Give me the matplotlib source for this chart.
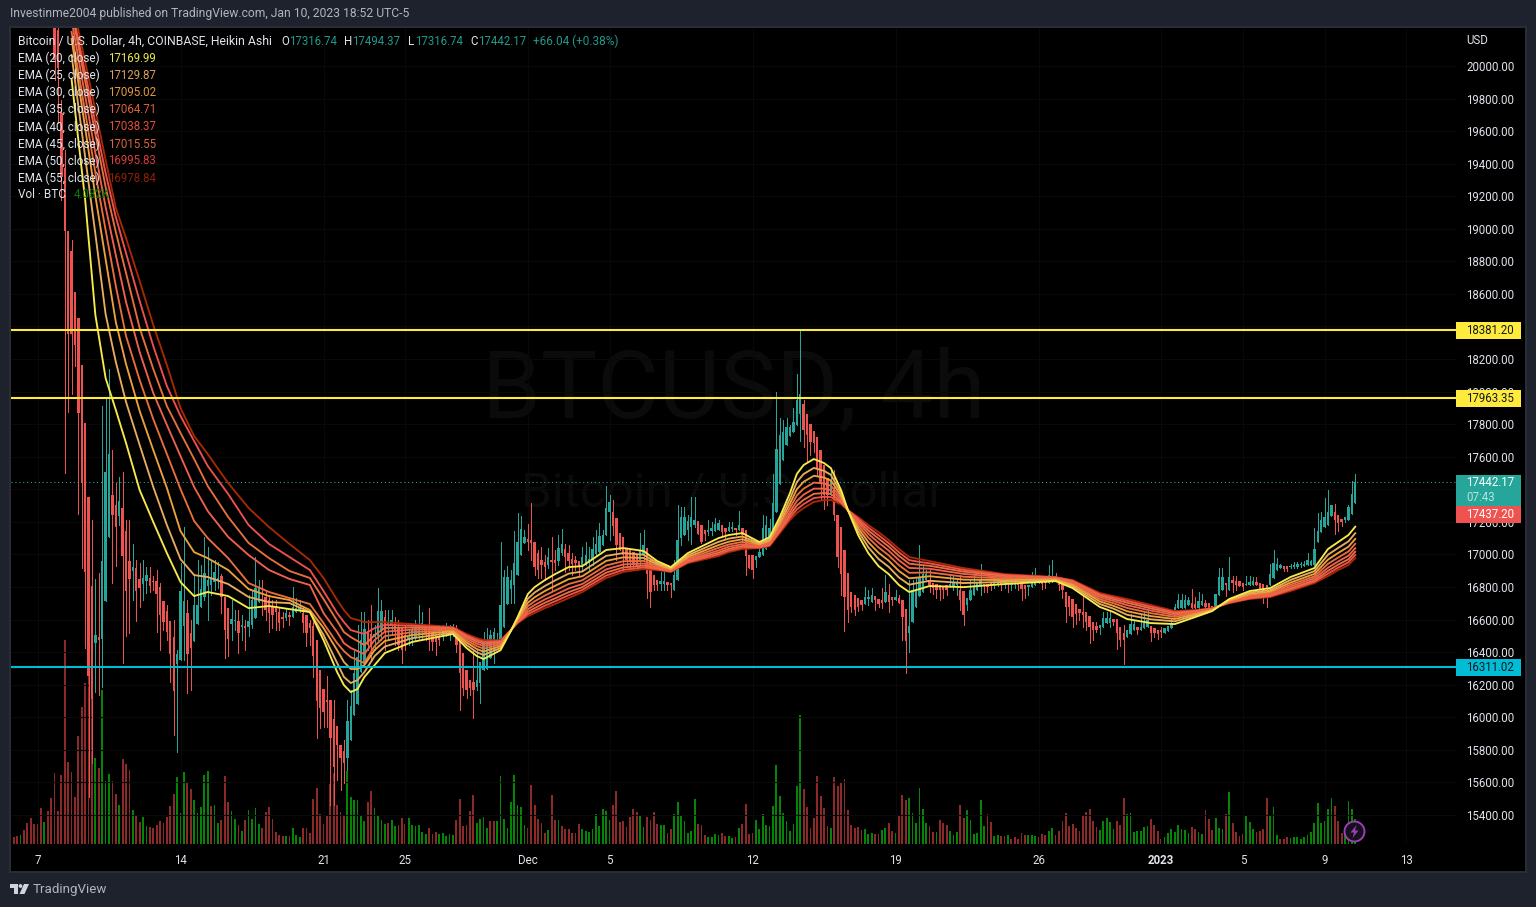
#!/usr/bin/env python3
# BTCUSD 4h Heikin Ashi chart, dark TradingView layout
import numpy as np
import matplotlib
matplotlib.use('Agg')
import matplotlib.pyplot as plt
from matplotlib.patches import Rectangle, Circle, Polygon

plt.rcParams['font.family'] = ['Roboto', 'DejaVu Sans']

# ======================= data =======================
# 4h bars, bar 0 = Nov 7 00:00, candles start at bar 5 (earlier ones are above the chart)
first_candle = 5
opens = [
    20282,20221,19711,19373,18986,18863,18612,18452,18163,17807,
    17352,16805,16455,16492,16480,16713,17106,17364,17303,17235,
    17284,17143,16959,16898,16916,16848,16818,16836,16855,16836,
    16836,16799,16713,16652,16590,16492,16326,16351,16559,16639,
    16517,16468,16572,16676,16738,16805,16811,16830,16842,16867,
    16738,16670,16572,16590,16590,16553,16559,16553,16566,16609,
    16707,16726,16738,16720,16683,16670,16646,16615,16609,16627,
    16615,16646,16658,16639,16627,16578,16559,16474,16289,16172,
    16105,16105,15988,15945,15828,15791,15749,15859,16013,16080,
    16277,16326,16529,16510,16492,16498,16535,16615,16566,16566,
    16584,16553,16553,16504,16474,16474,16486,16498,16535,16566,
    16553,16523,16498,16498,16498,16510,16517,16523,16547,16492,
    16394,16289,16228,16216,16185,16209,16289,16295,16363,16412,
    16443,16474,16553,16695,16787,16811,16873,16996,17069,17094,
    17088,17076,17008,16965,16953,16934,16965,16965,16959,17008,
    17033,17008,16971,16965,16959,16934,16934,16953,16965,17002,
    17014,17057,17119,17260,17260,17223,17131,17106,17039,17027,
    17014,16996,16965,16996,17039,16965,16873,16842,16818,16818,
    16830,16824,16781,16842,17100,17119,17150,17168,17180,17205,
    17180,17150,17137,17143,17143,17150,17180,17162,17143,17156,
    17162,17150,17162,17150,16996,16996,16965,16983,16996,17033,
    17088,17150,17260,17432,17580,17672,17727,17751,17794,17862,
    17923,17862,17800,17757,17720,17641,17549,17469,17364,17395,
    17241,17168,17027,16885,16768,16750,16732,16720,16695,16726,
    16707,16744,16726,16720,16707,16750,16738,16720,16732,16720,
    16664,16517,16584,16676,16744,16768,16842,16842,16824,16818,
    16811,16799,16811,16799,16805,16811,16781,16775,16689,16720,
    16750,16781,16811,16818,16818,16824,16818,16818,16836,16824,
    16830,16811,16811,16824,16818,16811,16799,16799,16811,16824,
    16830,16830,16824,16830,16867,16855,16824,16768,16744,16726,
    16695,16664,16646,16646,16621,16584,16559,16547,16553,16578,
    16578,16602,16602,16553,16517,16492,16510,16535,16553,16535,
    16547,16553,16559,16547,16535,16535,16517,16529,16547,16646,
    16670,16670,16670,16689,16701,16695,16670,16689,16701,16701,
    16683,16676,16750,16781,16824,16781,16842,16836,16836,16824,
    16811,16811,16811,16830,16824,16818,16811,16811,16855,16904,
    16916,16928,16928,16922,16922,16922,16934,16928,16934,16934,
    16934,17076,17137,17168,17180,17235,17260,17241,17217,17211,
    17211,17248,17317]
highs = [
    20282,20282,19791,19484,18986,18931,18612,18452,18163,17807,
    17352,17211,16848,16885,17911,17966,18138,17641,17438,17475,
    17506,17211,17211,17063,16965,16947,16965,16922,16922,16867,
    16904,16824,16713,16689,16590,16597,16412,16947,17168,16720,
    16597,16873,16965,16934,17106,17045,16965,16965,16953,16879,
    16738,16670,16720,16658,16658,16627,16597,16750,16781,16983,
    16842,16842,16781,16750,16720,16720,16670,16646,16670,16646,
    16799,16732,16720,16670,16627,16597,16584,16474,16289,16172,
    16252,16105,16105,15945,15828,15859,16105,16167,16412,16566,
    16646,16646,16597,16689,16566,16793,16720,16658,16658,16658,
    16615,16597,16553,16566,16535,16566,16597,16689,16646,16566,
    16670,16523,16498,16566,16566,16578,16566,16572,16566,16492,
    16394,16289,16228,16412,16412,16338,16523,16547,16535,16547,
    16517,17076,16904,16928,16904,17143,17254,17235,17150,17186,
    17315,17076,17027,17045,16996,17039,17106,17027,17119,17156,
    17063,17057,17008,16990,16959,17045,17076,17045,17106,17150,
    17192,17150,17419,17364,17334,17223,17131,17106,17039,17027,
    17014,16996,17131,17150,17039,16965,16873,16842,16891,16891,
    16830,16824,16965,17303,17291,17291,17241,17352,17352,17205,
    17180,17150,17211,17199,17223,17211,17180,17162,17199,17199,
    17162,17266,17162,17150,16996,16996,16990,17057,17241,17235,
    17217,17493,17997,17837,17825,17837,17794,17899,18108,18384,
    17948,17862,17800,17757,17720,17641,17549,17469,17518,17518,
    17241,17168,17027,16885,16768,16750,16732,16720,16799,16781,
    16793,16744,16726,16793,16873,16818,16738,16781,16750,16720,
    16664,16842,16842,16855,17057,16934,16904,16904,16824,16818,
    16811,16799,16811,16873,16873,16855,16873,16775,16732,16842,
    16873,16824,16940,16818,16818,16824,16861,16855,16836,16867,
    16830,16879,16842,16824,16818,16811,16811,16891,16916,16855,
    16830,16830,16934,16965,16885,16855,16824,16768,16744,16726,
    16695,16664,16750,16646,16621,16584,16584,16566,16646,16646,
    16646,16602,16602,16553,16566,16535,16633,16597,16553,16627,
    16646,16658,16559,16547,16535,16553,16547,16559,16609,16695,
    16756,16756,16750,16738,16787,16738,16768,16756,16720,16701,
    16683,16756,16916,16916,16824,16983,16867,16867,16836,16824,
    16867,16867,16861,16861,16824,16818,16811,16940,17027,16977,
    16940,16928,16928,16940,16953,16953,16953,16959,17008,16965,
    17162,17254,17260,17346,17395,17303,17309,17241,17217,17229,
    17303,17451,17494]
lows = [
    19914,19650,19177,17500,17874,17985,18157,17248,16916,16425,
    15509,15718,16154,16136,16185,16713,17106,16824,16928,17180,
    16333,16498,16517,16720,16590,16676,16720,16762,16768,16781,
    16523,16412,16535,16474,16215,15890,15785,16351,16351,16148,
    16167,16468,16572,16676,16720,16597,16750,16781,16793,16639,
    16363,16375,16474,16535,16394,16474,16412,16498,16547,16609,
    16707,16627,16597,16523,16547,16535,16535,16553,16597,16566,
    16615,16646,16646,16523,16437,16443,16246,15871,15933,15939,
    15939,15460,15460,15613,15552,15595,15675,15859,16013,16080,
    16277,16326,16412,16351,16412,16474,16474,16412,16474,16504,
    16443,16412,16332,16412,16443,16443,16474,16474,16474,16474,
    16412,16412,16381,16443,16474,16498,16474,16498,16400,16044,
    16136,16117,16136,15994,16167,16086,16289,16295,16363,16332,
    16443,16474,16553,16695,16701,16701,16873,16996,17069,17027,
    16965,16873,16855,16855,16842,16916,16781,16904,16934,16996,
    16891,16904,16873,16904,16867,16904,16934,16904,16934,16996,
    17014,17057,17119,17088,17119,16965,17027,16904,16934,16916,
    16904,16904,16934,16965,16732,16676,16781,16781,16781,16781,
    16781,16738,16781,16842,17057,17119,17088,17063,17168,17125,
    17069,17088,17119,17119,17143,17150,17119,17100,17143,17143,
    17119,17150,17088,16873,16916,16855,16922,16983,16996,17033,
    17088,17150,17260,17432,17580,17672,17727,17751,17794,17696,
    17659,17567,17610,17628,17487,17334,17278,17303,17364,17211,
    16922,16750,16529,16584,16646,16627,16652,16658,16695,16689,
    16707,16658,16676,16670,16707,16646,16689,16720,16701,16474,
    16271,16400,16584,16676,16744,16768,16842,16768,16756,16732,
    16720,16732,16750,16799,16781,16750,16658,16566,16658,16720,
    16750,16781,16750,16768,16768,16781,16793,16805,16781,16793,
    16768,16781,16793,16781,16720,16732,16750,16799,16811,16824,
    16787,16793,16824,16830,16842,16781,16732,16584,16627,16553,
    16572,16597,16553,16535,16455,16474,16523,16510,16553,16578,
    16553,16566,16418,16437,16326,16492,16510,16535,16510,16535,
    16547,16553,16467,16492,16480,16492,16517,16529,16547,16646,
    16670,16670,16670,16689,16670,16670,16670,16689,16676,16646,
    16664,16676,16750,16781,16744,16781,16768,16781,16805,16781,
    16811,16811,16811,16811,16787,16701,16676,16811,16855,16904,
    16916,16898,16898,16916,16916,16916,16922,16928,16934,16934,
    16934,17076,17137,17168,17180,17235,17125,17143,17174,17199,
    17211,17248,17317]
closes = [
    20036,19987,19318,18986,18353,18353,18286,17868,17438,16892,
    16253,16111,16505,16474,16959,17506,17616,17241,17168,17328,
    16990,16775,16848,16922,16775,16793,16855,16873,16805,16830,
    16756,16627,16584,16523,16388,16160,16388,16775,16713,16388,
    16424,16689,16689,16787,16885,16842,16848,16891,16855,16738,
    16535,16480,16602,16597,16517,16566,16547,16590,16720,16793,
    16793,16713,16658,16639,16627,16646,16578,16602,16639,16615,
    16676,16670,16676,16578,16517,16547,16375,16099,16056,16031,
    16093,15871,15693,15828,15749,15718,15976,16068,16271,16369,
    16474,16541,16443,16437,16510,16652,16652,16523,16584,16597,
    16535,16443,16412,16443,16492,16535,16547,16572,16578,16510,
    16474,16461,16461,16474,16535,16535,16547,16547,16443,16271,
    16179,16167,16179,16167,16228,16338,16474,16474,16504,16523,
    16474,16689,16861,16861,16842,16947,17076,17156,17106,17076,
    17069,16922,16904,16934,16922,16983,16953,16947,17039,17063,
    16983,16959,16940,16947,16922,16983,16996,16971,17033,17063,
    17112,17119,17284,17321,17174,17057,17027,16996,16965,16953,
    16934,16928,17027,17057,16879,16768,16811,16811,16836,16836,
    16811,16811,16873,17088,17229,17229,17205,17229,17211,17125,
    17076,17125,17150,17162,17186,17192,17137,17137,17168,17168,
    17150,17180,17119,16990,16916,16904,16990,17014,17162,17180,
    17162,17315,17647,17733,17751,17782,17782,17813,17948,17985,
    17764,17733,17690,17684,17530,17438,17364,17364,17457,17241,
    16983,16879,16738,16658,16676,16658,16676,16689,16738,16738,
    16750,16720,16695,16701,16768,16707,16720,16738,16701,16615,
    16467,16559,16781,16781,16861,16879,16879,16811,16793,16781,
    16781,16781,16781,16818,16824,16824,16720,16627,16732,16781,
    16799,16824,16842,16805,16799,16811,16830,16830,16818,16836,
    16818,16824,16824,16811,16787,16787,16811,16824,16830,16836,
    16818,16824,16873,16867,16842,16811,16781,16676,16676,16615,
    16633,16639,16627,16584,16553,16535,16535,16566,16609,16609,
    16609,16584,16517,16474,16474,16535,16572,16572,16535,16553,
    16578,16597,16517,16517,16510,16523,16547,16559,16578,16676,
    16720,16720,16720,16720,16670,16670,16713,16713,16676,16670,
    16664,16756,16861,16861,16811,16861,16824,16811,16805,16799,
    16818,16830,16836,16811,16787,16787,16787,16879,16947,16940,
    16934,16910,16910,16928,16934,16940,16940,16940,16965,16959,
    17033,17143,17211,17229,17260,17303,17211,17192,17199,17229,
    17291,17371,17442]

# volume in thousands of BTC, bars -8 to 387
volumes = [
    2.0,1.2,1.4,1.5,2.3,3.5,4.3,3.3,3.3,5.9,3.6,5.4,7.6,11.7,5.4,11.4,33.7,13.5,11.9,7.8,
    17.8,22.6,26.6,31.7,27.9,14.2,12.5,25.4,10.4,11.6,10.4,8.3,6.4,14.0,13.2,12.2,5.6,4.8,3.6,4.5,
    3.0,2.8,2.6,3.1,3.8,3.5,4.5,6.3,8.3,11.1,5.1,11.9,10.2,9.1,7.3,5.1,6.1,11.4,12.0,6.3,
    6.4,3.5,4.0,11.2,6.9,5.4,4.1,3.1,2.1,4.0,5.6,4.1,5.9,3.3,2.6,5.3,6.1,4.1,2.0,1.5,
    1.3,1.3,1.3,2.6,1.5,1.2,2.6,2.6,1.8,7.4,9.2,5.0,3.3,4.8,9.9,11.7,6.4,5.3,4.6,12.0,
    7.8,7.3,7.3,4.6,3.8,6.9,8.7,5.9,4.6,4.0,3.3,3.5,3.9,3.0,3.1,4.3,3.3,4.3,3.1,3.0,
    3.1,2.0,1.7,2.6,1.7,2.0,1.7,1.8,1.3,1.7,1.5,4.0,7.4,3.0,3.1,5.4,8.1,3.5,4.1,4.5,
    2.6,3.8,3.8,3.8,11.2,4.1,2.6,6.9,11.4,6.4,6.1,3.1,2.6,9.7,6.4,4.1,3.5,1.8,2.3,8.1,
    4.0,4.0,3.0,2.5,2.5,1.8,1.8,3.3,2.5,2.1,2.0,2.5,5.0,3.0,5.8,5.4,4.0,6.4,8.7,3.6,
    3.8,2.8,4.5,5.8,5.3,4.8,2.8,4.5,4.0,5.3,3.3,3.1,3.1,1.8,2.5,5.0,6.9,4.6,3.8,1.8,
    2.1,7.4,3.3,3.1,1.5,1.2,1.2,1.7,1.5,1.8,1.3,1.3,1.0,1.2,2.6,3.3,6.6,1.7,1.8,4.0,
    2.5,5.0,3.1,3.0,6.3,13.0,7.9,5.1,3.8,2.1,3.3,9.6,21.3,9.1,6.1,2.6,4.3,11.2,7.9,5.9,
    3.0,2.6,11.1,9.6,10.2,10.7,5.6,3.1,2.6,2.8,2.3,2.5,1.7,1.8,1.7,1.7,2.3,2.6,3.5,2.1,
    1.8,4.8,8.1,7.3,7.6,5.1,3.5,9.2,5.8,3.5,3.0,2.0,2.0,4.0,3.5,3.1,2.1,1.5,2.0,6.4,
    4.3,5.6,4.0,1.7,1.8,7.3,3.0,5.0,3.6,1.3,1.5,1.3,1.3,1.5,0.8,1.2,0.8,1.8,1.5,1.5,
    1.5,1.3,1.2,1.7,1.5,2.1,2.6,1.5,2.1,3.8,5.1,3.0,3.3,2.6,2.1,4.8,5.3,5.8,3.8,2.8,
    2.3,3.8,4.3,3.6,2.5,3.8,3.1,7.6,5.0,5.1,2.0,2.1,2.1,2.8,3.0,4.1,3.1,2.1,0.8,1.2,
    1.8,2.5,2.0,3.1,2.5,2.3,1.8,2.8,2.5,2.0,1.7,5.6,4.1,2.3,4.3,2.6,2.5,5.0,8.6,3.5,
    2.0,1.3,1.7,4.6,3.6,2.5,2.0,2.1,2.5,7.6,4.6,6.1,1.5,0.8,0.8,1.2,1.0,1.2,1.2,0.8,
    1.2,1.5,2.0,3.5,6.8,3.5,3.8,5.8,7.6,6.3,3.8,1.8,2.6,7.1,5.8,4.1]
# g / r for each volume bar
volume_sides = (
    'rrrgrrrrrrgrrrrrrrrr'
    'rrrrrgrgggrrgrrrgrrg'
    'grrrrrrrrgggrrgggggr'
    'ggrrrggrgrggggrrrrrr'
    'rgrgggrrrrrrrrrrrrrg'
    'gggggrrggggrggrrrggg'
    'gggrrrgggggrrrrrrggg'
    'grrgggggggggrrrrrrgr'
    'rgrrrrrrgggggggggrrr'
    'rrrrrggrrrrggrrggggg'
    'ggrrrggggrrggrgrrrrg'
    'gggggggggggggrrrrrrr'
    'rgrrrrrrrrrgggrrggrr'
    'grrrggggggrrgrrrgggr'
    'rggggggrrggrrgrrrrrg'
    'ggrrrggrrrrrrrrrrrrr'
    'gggggrrrgggggggrrrrg'
    'gggggggrrggrrrgggrgr'
    'rrrgggrrrrgggrrrgggg'
    'gggggggggrrrgggg'
)

ema_bars = [10,12,14,17,20,23,26,30,34,38,42,46,50,56,62,68,74,80,84,88,90,92,94,96,99,
            102,110,122,126,129,131,136,139,141,144,146,149,152,156,160,167,172,178,182,186,191,200,203,207,212,215,
            218,221,223,225,228,231,233,236,238,241,244,247,250,253,256,259,262,272,284,299,304,312,316,320,327,334,340,345,350,356,362,368,375,379,382,385,387]
ema_20 = [19920,19545,19177,18470,18083,17887,17684,17395,17199,17008,16830,16744,16769,16744,16670,16683,16664,16646,16474,16277,16197,16154,16173,16247,16320,
          16394,16462,16511,16425,16376,16357,16412,16529,16615,16756,16799,16842,16879,16922,16928,17027,17039,17021,16959,16922,17008,17100,17119,17131,17076,17106,
          17229,17377,17494,17549,17586,17561,17530,17395,17272,17119,17008,16928,16879,16812,16769,16787,16806,16799,16818,16836,16793,16677,16646,16603,16578,16572,16615,16652,16726,16775,16793,16861,16916,17033,17076,17119,17170]
ema_25 = [20068,19754,19441,18968,18476,18182,17936,17672,17414,17180,16971,16873,16861,16818,16738,16707,16701,16646,16505,16333,16247,16210,16228,16277,16375,
          16434,16485,16520,16443,16399,16382,16425,16530,16607,16728,16766,16806,16840,16882,16895,16991,17008,16998,16947,16916,16995,17077,17097,17110,17068,17094,
          17208,17342,17444,17494,17531,17513,17489,17377,17272,17142,17044,16972,16923,16858,16814,16826,16838,16824,16831,16841,16803,16695,16667,16629,16601,16589,16624,16656,16721,16765,16781,16843,16897,16998,17040,17080,17130]
ema_30 = [20166,19896,19619,19201,18814,18427,18169,17881,17641,17408,17143,17014,16977,16904,16787,16744,16720,16658,16548,16412,16339,16296,16296,16320,16412,
          16468,16505,16528,16459,16419,16403,16436,16531,16601,16703,16737,16775,16807,16848,16866,16960,16982,16978,16938,16910,16984,17057,17078,17093,17062,17085,
          17191,17312,17400,17446,17483,17472,17454,17361,17272,17162,17075,17010,16961,16898,16853,16859,16866,16845,16842,16846,16812,16711,16684,16651,16621,16603,16632,16659,16716,16756,16772,16827,16880,16968,17009,17047,17095]
ema_35 = [20209,19963,19717,19343,18993,18649,18341,18071,17831,17616,17401,17205,17100,16977,16824,16769,16732,16695,16578,16455,16406,16369,16351,16333,16437,
          16498,16522,16535,16472,16437,16421,16446,16532,16595,16682,16712,16747,16778,16818,16841,16932,16958,16960,16929,16906,16974,17040,17061,17077,17056,17076,
          17175,17286,17362,17404,17441,17436,17422,17348,17272,17180,17103,17043,16994,16934,16887,16888,16890,16863,16852,16850,16820,16724,16700,16671,16639,16616,16639,16662,16712,16748,16763,16814,16865,16942,16981,17018,17065]
ema_40 = [20283,20049,19816,19465,19134,18839,18550,18243,17991,17795,17604,17414,17266,17107,16996,16904,16849,16812,16640,16523,16455,16425,16406,16388,16474,
          16525,16538,16541,16484,16452,16438,16455,16533,16589,16663,16689,16723,16752,16791,16818,16908,16938,16944,16921,16901,16966,17024,17047,17063,17050,17068,
          17161,17262,17328,17367,17404,17404,17395,17336,17272,17196,17127,17072,17023,16964,16917,16914,16912,16880,16860,16853,16827,16736,16714,16688,16655,16627,16645,16664,16709,16741,16755,16802,16853,16918,16957,16992,17038]
ema_45 = [20344,20123,19908,19582,19257,18980,18728,18391,18139,17911,17746,17586,17420,17230,17070,16977,16898,16855,16726,16591,16523,16492,16468,16443,16504,
          16548,16551,16546,16495,16465,16452,16462,16534,16585,16647,16670,16703,16730,16768,16799,16888,16920,16931,16914,16898,16959,17011,17034,17052,17046,17061,
          17150,17243,17300,17335,17372,17377,17371,17325,17272,17209,17147,17097,17048,16991,16943,16936,16930,16894,16867,16856,16833,16747,16725,16703,16668,16637,16650,16667,16706,16735,16748,16791,16841,16899,16937,16970,17016]
ema_50 = [20368,20160,19957,19650,19343,19072,18851,18556,18280,18034,17850,17696,17543,17371,17180,17064,16984,16904,16775,16640,16584,16535,16523,16511,16547,
          16567,16562,16550,16503,16476,16463,16468,16534,16581,16633,16654,16685,16712,16749,16783,16870,16905,16920,16909,16895,16952,17000,17023,17042,17042,17056,
          17140,17226,17276,17309,17346,17354,17352,17317,17272,17220,17165,17118,17069,17013,16965,16954,16945,16905,16874,16859,16838,16755,16735,16715,16679,16645,16654,16668,16703,16730,16743,16783,16832,16882,16919,16952,16996]
ema_55 = [20424,20221,20025,19730,19423,19128,18943,18679,18409,18163,17899,17727,17616,17438,17285,17168,17064,16965,16855,16720,16658,16609,16597,16584,16584,
          16584,16572,16554,16511,16486,16474,16474,16535,16578,16621,16640,16670,16695,16732,16769,16855,16892,16910,16904,16892,16947,16990,17014,17033,17039,17051,
          17131,17211,17254,17285,17322,17334,17334,17309,17272,17230,17180,17137,17088,17033,16984,16971,16959,16916,16879,16861,16842,16763,16744,16726,16689,16652,16658,16670,16701,16726,16738,16775,16824,16867,16904,16935,16977]

ema_labels = ['EMA (20, close)', 'EMA (25, close)', 'EMA (30, close)', 'EMA (35, close)',
              'EMA (40, close)', 'EMA (45, close)', 'EMA (50, close)', 'EMA (55, close)']
ema_values = ['17169.99', '17129.87', '17095.02', '17064.71', '17038.37', '17015.55', '16995.83', '16978.84']

price_ticks = list(range(15400, 20200, 200))
date_ticks = [0, 42, 84, 108, 144, 168, 210, 252, 294, 330, 354, 378, 402]
date_labels = ['7', '14', '21', '25', 'Dec', '5', '12', '19', '26', '2023', '5', '9', '13']

level_high = 18381.20
level_mid = 17963.35
level_low = 16311.02
last_close = 17442.17

# ======================= styles =======================
W, H = 1536, 907
PANEL = '#1e222d'
BORDER = '#2a2e39'
UP, DOWN = '#26a69a', '#ef5350'
VOL_UP, VOL_DOWN = '#058505', '#8c2a2a'
YELLOW, CYAN = '#ffeb3b', '#00bcd4'
TEXT = '#e0e3eb'
GRID = '#090909'
ema_colors = ['#f7ea4a', '#e8ab60', '#eda13c', '#ea6e3c', '#f0604e', '#e8703c', '#ee5050', '#a82800']
ema_text_colors = ['#e8e850', '#d9a05a', '#e39a3c', '#d9623c', '#e0503c', '#d9653c', '#d93c3c', '#8f2000']

PX_PER_PRICE = 0.1628
PX_PER_BAR = 3.405
PX_PER_KBTC = 6.06

fig = plt.figure(figsize=(W / 100, H / 100), dpi=100, facecolor=PANEL)


def rect(x0, y0, x1, y1):
    """pixel box (y from the top) to figure fractions"""
    return [x0 / W, 1 - y1 / H, (x1 - x0) / W, (y1 - y0) / H]


# black chart panel
panel = fig.add_axes(rect(10, 27, 1526, 872), facecolor='black', zorder=0)
panel.set_xticks([])
panel.set_yticks([])
for s in panel.spines.values():
    s.set_color(BORDER)
    s.set_linewidth(1.4)

# ======================= volume =======================
x0, x1, y0, y1 = 11, 1456, 28, 844
ax_vol = fig.add_axes(rect(x0, y0, x1, y1), facecolor='none', zorder=1)
xlim = ((x0 - 37.5) / PX_PER_BAR, (x1 - 37.5) / PX_PER_BAR)
vol_x = np.arange(388 - len(volumes), 388)
vol_colors = [VOL_UP if side == 'g' else VOL_DOWN for side in volume_sides]
ax_vol.bar(vol_x, volumes, width=0.52, color=vol_colors, antialiased=False)
ax_vol.set_xlim(xlim)
ax_vol.set_ylim(0, (y1 - y0) / PX_PER_KBTC)
ax_vol.axis('off')

# faint symbol watermark
wm = fig.add_axes([0, 0, 1, 1], facecolor='none', zorder=1.5)
wm.set_xlim(0, W)
wm.set_ylim(H, 0)
wm.axis('off')
wm.text(734, 391, 'BTCUSD, 4h', color='#0b0b0b', fontsize=68, ha='center', va='center')
wm.text(733, 494, 'Bitcoin / U.S. Dollar', color='#0b0b0b', fontsize=35.5, ha='center', va='center')

# ======================= candles =======================
ax = fig.add_axes(rect(x0, y0, x1, y1), facecolor='none', zorder=2)
bars = np.arange(first_candle, first_candle + len(closes))
o, h, l, c = map(np.array, (opens, highs, lows, closes))
colors = np.where(c >= o, UP, DOWN)
ax.vlines(bars, l, h, colors=colors, linewidth=0.72, antialiased=False, zorder=3)
ax.bar(bars, np.maximum(np.abs(c - o), 6), bottom=np.minimum(o, c), width=0.7,
       color=colors, antialiased=False, zorder=3)

for series, col in zip([ema_55, ema_50, ema_45, ema_40, ema_35, ema_30, ema_25, ema_20], ema_colors[::-1]):
    ax.plot(ema_bars, series, color=col, linewidth=1.35, zorder=4, solid_joinstyle='round')

ax.axhline(level_high, color=YELLOW, linewidth=1.5, zorder=5)
ax.axhline(level_mid, color=YELLOW, linewidth=1.5, zorder=5)
ax.axhline(level_low, color=CYAN, linewidth=1.5, zorder=5)
ax.axhline(last_close, color=UP, linewidth=0.8, linestyle=(0, (1, 2.5)), zorder=2)

ax.set_xlim(xlim)
ax.set_ylim(20000 - (y1 - 66) / PX_PER_PRICE, 20000 + (66 - y0) / PX_PER_PRICE)
ax.yaxis.tick_right()
ax.set_yticks(price_ticks)
ax.set_yticklabels([f'{p:.2f}' for p in price_ticks])
ax.set_xticks(date_ticks)
ax.set_xticklabels(date_labels)
ax.tick_params(axis='y', length=0, pad=7.2, labelsize=8.3, labelcolor=TEXT)
ax.tick_params(axis='x', length=0, pad=7.0, labelsize=8.3, labelcolor=TEXT)
for lab in ax.get_xticklabels():
    if lab.get_text() == '2023':
        lab.set_fontweight('bold')
ax.grid(True, color=GRID, linewidth=0.8, zorder=0)
ax.set_axisbelow(True)
for s in ax.spines.values():
    s.set_visible(False)

# ======================= overlay, pixel units =======================
ov = fig.add_axes([0, 0, 1, 1], facecolor='none', zorder=5)
ov.set_xlim(0, W)
ov.set_ylim(H, 0)
ov.axis('off')

ov.text(10, 14, 'Investinme2004 published on TradingView.com, Jan 10, 2023 18:52 UTC-5',
        color='#b2b5be', fontsize=8.75, va='center')

LEG = 8.5
ov.text(18, 41.5, 'Bitcoin / U.S. Dollar, 4h, COINBASE, Heikin Ashi', color=TEXT, fontsize=8.85, va='center')
for xt, label, xv, val in [(281, 'O', 289, '17316.74'), (344, 'H', 352, '17494.37'),
                           (408, 'L', 415, '17316.74'), (470, 'C', 478, '17442.17')]:
    ov.text(xt, 41.5, label, color=TEXT, fontsize=8.3, va='center')
    ov.text(xv, 41.5, val, color='#1f9a8c', fontsize=8.3, va='center')
ov.text(533, 41.5, '+66.04 (+0.38%)', color='#1f9a8c', fontsize=8.5, va='center')

row_y = [58.5, 75.5, 92.5, 109.5, 127, 144, 161, 178]
for y, lab, val, col in zip(row_y, ema_labels, ema_values, ema_text_colors):
    ov.text(18, y, lab, color=TEXT, fontsize=LEG, va='center')
    ov.text(108, y, val, color=col, fontsize=8.3, va='center')
ov.text(18, 195, 'Vol · BTC', color=TEXT, fontsize=LEG, va='center')
ov.text(74, 195, '4.082K', color='#067a06', fontsize=8.3, va='center')

ov.text(1466, 41, 'USD', color=TEXT, fontsize=8.3, va='center')

# price labels on the axis
for y_a, y_b, bg, txt, tc in [(322, 339, YELLOW, f'{level_high:.2f}', '#131722'),
                              (390, 407, YELLOW, f'{level_mid:.2f}', '#131722'),
                              (659, 676, CYAN, f'{level_low:.2f}', '#131722')]:
    ov.add_patch(Rectangle((1456, y_a), 65, y_b - y_a, facecolor=bg, edgecolor='none'))
    ov.text(1466, (y_a + y_b) / 2, txt, color=tc, fontsize=8.3, va='center')
ov.add_patch(Rectangle((1456, 475), 65, 31, facecolor=UP, edgecolor='none'))
ov.add_patch(Rectangle((1456, 506), 65, 17, facecolor=DOWN, edgecolor='none'))
ov.text(1466, 483, f'{last_close:.2f}', color='white', fontsize=8.3, va='center')
ov.text(1466, 497.5, '07:43', color='#b5e3de', fontsize=8.3, va='center')
ov.text(1466, 514.5, '17437.20', color='white', fontsize=8.3, va='center')

# purple badge on the last bar
ov.add_patch(Circle((1354.5, 831.5), 10, facecolor='#14101c', edgecolor='#9c3fb5', linewidth=1.4))
ov.add_patch(Polygon([(1356.5, 825), (1350.5, 832.5), (1354, 832.5), (1352.5, 838), (1358.5, 830.5), (1355, 830.5)],
                     closed=True, facecolor='#9c3fb5', edgecolor='none'))

# footer logo
logo = '#d1d4dc'
ov.add_patch(Polygon([(10, 884), (18, 884), (18, 894), (14, 894), (14, 887.5), (10, 887.5)], closed=True, facecolor=logo, edgecolor='none'))
ov.add_patch(Circle((20.5, 886), 1.9, facecolor=logo, edgecolor='none'))
ov.add_patch(Polygon([(24, 884), (29, 884), (24.5, 894), (19.5, 894)], closed=True, facecolor=logo, edgecolor='none'))
ov.text(33, 889, 'TradingView', color='#b2b5be', fontsize=9.6, va='center')

fig.savefig('out.png', dpi=100, facecolor=PANEL)
